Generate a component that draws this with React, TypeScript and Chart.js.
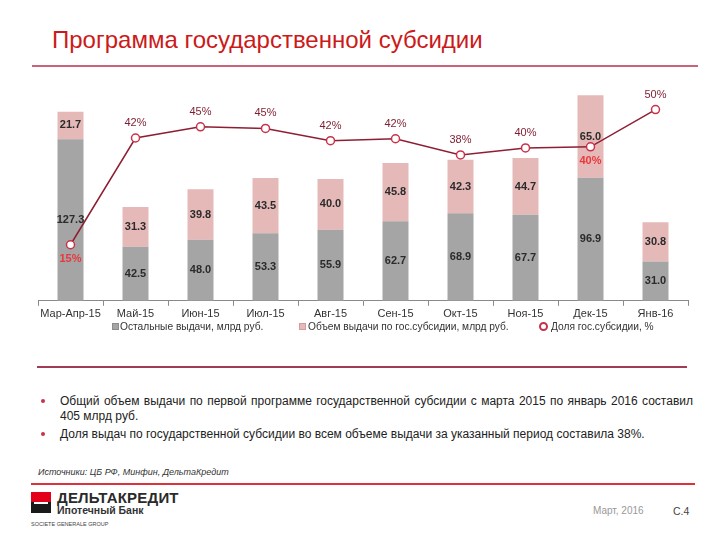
import React, { useEffect, useRef } from "react";
import { Chart, registerables } from "chart.js";

Chart.register(...registerables);

const categories = ["Мар-Апр-15", "Май-15", "Июн-15", "Июл-15", "Авг-15", "Сен-15", "Окт-15", "Ноя-15", "Дек-15", "Янв-16"];
const otherLoans = [127.3, 42.5, 48.0, 53.3, 55.9, 62.7, 68.9, 67.7, 96.9, 31.0];
const subsidyLoans = [21.7, 31.3, 39.8, 43.5, 40.0, 45.8, 42.3, 44.7, 65.0, 30.8];
const subsidyShare = [14.6, 42.4, 45.3, 44.9, 41.7, 42.2, 38.0, 39.8, 40.1, 49.8];
const seriesNames = ["Остальные выдачи, млрд руб.", "Объем выдачи по гос.субсидии, млрд руб.", "Доля гос.субсидии, %"];
const belowLabelIdx = [0, 8];

const FONT = "'Liberation Sans', Arial, sans-serif";
const GREY = "#a5a5a5";
const PINK = "#e6b9b9";
const LINE = "#8e1f33";
const MARKER = "#c8324a";

const labelPlugin = {
  id: "valueLabels",
  afterDatasetsDraw(chart: any) {
    const ctx = chart.ctx;
    ctx.save();
    ctx.textAlign = "center";
    ctx.textBaseline = "middle";
    [0, 1].forEach((di) => {
      const meta = chart.getDatasetMeta(di);
      meta.data.forEach((el: any, i: number) => {
        const v = chart.data.datasets[di].data[i];
        const y = (el.y + el.base) / 2;
        ctx.font = `bold 11px ${FONT}`;
        ctx.fillStyle = "#2b2b2b";
        ctx.fillText(v.toFixed(1), el.x, y);
      });
    });
    const lm = chart.getDatasetMeta(2);
    lm.data.forEach((el: any, i: number) => {
      const v = chart.data.datasets[2].data[i];
      const txt = Math.round(v) + "%";
      if (belowLabelIdx.includes(i)) {
        ctx.font = `bold 11px ${FONT}`;
        ctx.fillStyle = "#e8383d";
        ctx.fillText(txt, el.x, el.y + 14);
      } else {
        ctx.font = `11px ${FONT}`;
        ctx.fillStyle = "#7d1d30";
        ctx.fillText(txt, el.x, el.y - 15);
      }
    });
    ctx.restore();
  },
};

function ChartBox() {
  const ref = useRef<HTMLCanvasElement>(null);
  useEffect(() => {
    if (!ref.current) return;
    Chart.defaults.font.family = FONT;
    const chart = new Chart(ref.current, {
      type: "bar",
      data: {
        labels: categories,
        datasets: [
          {
            type: "bar",
            label: seriesNames[0],
            data: otherLoans,
            backgroundColor: GREY,
            stack: "s",
            yAxisID: "y",
            barPercentage: 0.4,
            categoryPercentage: 1,
            order: 2,
          } as any,
          {
            type: "bar",
            label: seriesNames[1],
            data: subsidyLoans,
            backgroundColor: PINK,
            stack: "s",
            yAxisID: "y",
            barPercentage: 0.4,
            categoryPercentage: 1,
            order: 2,
          } as any,
          {
            type: "line",
            label: seriesNames[2],
            data: subsidyShare,
            yAxisID: "y2",
            borderColor: LINE,
            borderWidth: 1.5,
            tension: 0,
            pointRadius: 4,
            pointBorderWidth: 1.5,
            pointBackgroundColor: "#ffffff",
            pointBorderColor: MARKER,
            order: 1,
          } as any,
        ],
      },
      options: {
        responsive: false,
        animation: false,
        layout: { padding: { left: 38, right: 32, top: 7, bottom: 3 } },
        scales: {
          x: {
            stacked: true,
            offset: true,
            grid: { offset: true, drawOnChartArea: false, tickLength: 5, color: "#8a8a8a" },
            border: { color: "#8a8a8a" },
            ticks: { color: "#333333", font: { size: 11, family: FONT }, padding: 2, maxRotation: 0 },
          },
          y: { stacked: true, display: false, min: 0, max: 170 },
          y2: { display: false, min: 0, max: 56.2 },
        },
        plugins: {
          legend: { display: false },
          tooltip: { enabled: false },
        },
      },
      plugins: [labelPlugin],
    });
    return () => chart.destroy();
  }, []);
  return <canvas ref={ref} width={720} height={248} style={{ position: "absolute", left: 0, top: 78 }} />;
}

export default function App() {
  const text: React.CSSProperties = { position: "absolute", fontFamily: FONT };
  const legText: React.CSSProperties = { ...text, top: 321, fontSize: 10.2, lineHeight: "12px", color: "#333", whiteSpace: "nowrap" };
  return (
    <div style={{ position: "absolute", left: 0, top: 0, width: 720, height: 540, background: "#fff", overflow: "hidden" }}>
      <div style={{ ...text, left: 52, top: 26, fontSize: 24, color: "#cc1a1a", lineHeight: "28px" }}>
        Программа государственной субсидии
      </div>
      <div style={{ position: "absolute", left: 32, top: 65, width: 666, height: 2, background: "#c8637a" }} />
      <ChartBox />

      <div style={{ position: "absolute", left: 112, top: 323, width: 7, height: 7, background: GREY, boxSizing: "border-box", border: "1px solid #8c8c8c" }} />
      <div style={{ ...legText, left: 120 }}>{seriesNames[0]}</div>
      <div style={{ position: "absolute", left: 299, top: 323, width: 7, height: 7, background: PINK, boxSizing: "border-box", border: "1px solid #d29c9c" }} />
      <div style={{ ...legText, left: 308 }}>{seriesNames[1]}</div>
      <div style={{ position: "absolute", left: 539, top: 322, width: 9, height: 9, borderRadius: 5, background: "#fff", boxSizing: "border-box", border: `2px solid ${MARKER}` }} />
      <div style={{ ...legText, left: 551 }}>{seriesNames[2]}</div>

      <div style={{ position: "absolute", left: 37, top: 366, width: 650, height: 1.5, background: "#a23c55" }} />
      <div style={{ ...text, left: 60, top: 394, width: 633, fontSize: 12, lineHeight: "14.5px", color: "#222", textAlign: "justify" }}>
        Общий объем выдачи по первой программе государственной субсидии с марта 2015 по январь 2016 составил 405 млрд руб.
      </div>
      <div style={{ ...text, left: 60, top: 427, width: 633, fontSize: 12, lineHeight: "14.5px", color: "#222" }}>
        Доля выдач по государственной субсидии во всем объеме выдачи за указанный период составила 38%.
      </div>
      <div style={{ position: "absolute", left: 41, top: 399, width: 4, height: 4, borderRadius: 2, background: "#c8324a" }} />
      <div style={{ position: "absolute", left: 41, top: 432, width: 4, height: 4, borderRadius: 2, background: "#c8324a" }} />
      <div style={{ ...text, left: 38, top: 467, fontSize: 9, fontStyle: "italic", color: "#333" }}>
        Источники: ЦБ РФ, Минфин, ДельтаКредит
      </div>
      <div style={{ position: "absolute", left: 31, top: 483, width: 664, height: 1.5, background: "#e0303c" }} />
      <div style={{ position: "absolute", left: 31, top: 492, width: 20, height: 21, background: "#1a1a1a" }} />
      <div style={{ position: "absolute", left: 31, top: 492, width: 20, height: 10, background: "#e2001a" }} />
      <div style={{ position: "absolute", left: 34, top: 502, width: 14, height: 1.5, background: "#ffffff" }} />
      <div style={{ ...text, left: 57, top: 489, fontSize: 15, fontWeight: "bold", color: "#2a2a2a", lineHeight: "17px", letterSpacing: 0.2 }}>
        ДЕЛЬТАКРЕДИТ
      </div>
      <div style={{ ...text, left: 57, top: 504, fontSize: 10.5, fontWeight: "bold", color: "#333", lineHeight: "13px" }}>
        Ипотечный Банк
      </div>
      <div style={{ ...text, left: 31, top: 521, fontSize: 5.5, color: "#444", lineHeight: "7px" }}>
        SOCIETE GENERALE GROUP
      </div>
      <div style={{ ...text, left: 593, top: 505, fontSize: 10, color: "#999", lineHeight: "12px" }}>
        Март, 2016
      </div>
      <div style={{ ...text, left: 673, top: 505, fontSize: 10.5, color: "#444", lineHeight: "12px" }}>
        С.4
      </div>
    </div>
  );
}
